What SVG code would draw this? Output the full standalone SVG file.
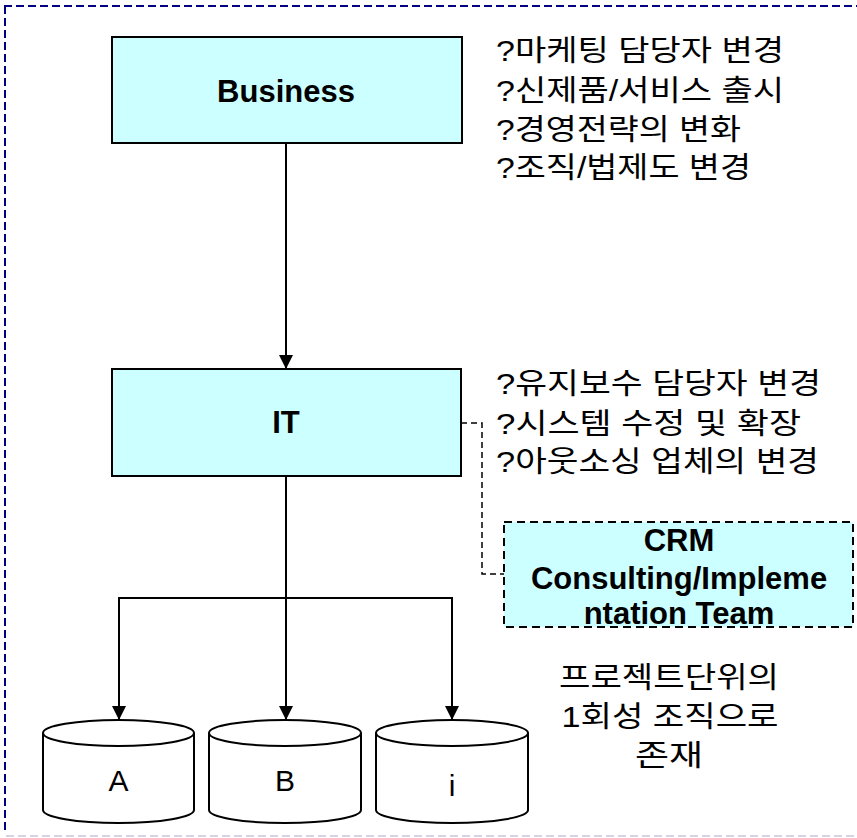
<svg xmlns="http://www.w3.org/2000/svg" width="857" height="838" viewBox="0 0 857 838">
  <style>
    .box { fill: #ccffff; stroke: #000; stroke-width: 2; }
    .team { fill: #ccffff; stroke: #000; stroke-width: 2; stroke-dasharray: 8 5; }
    .db { fill: #fff; stroke: #000; stroke-width: 2; }
    .bold { font-family: "Liberation Sans", Arial, sans-serif; font-weight: bold; font-size: 31px; fill: #000; text-anchor: middle; }
    .lbl { font-family: "Liberation Sans", Arial, sans-serif; font-size: 30px; fill: #000; text-anchor: middle; }
    .note { font-family: "Liberation Sans", "Noto Sans CJK KR", sans-serif; font-size: 29px; fill: #000; }
    .mid { text-anchor: middle; }
    .wire { fill: none; stroke: #000; stroke-width: 2; }
    .dash { fill: none; stroke: #000; stroke-width: 1.5; stroke-dasharray: 6 4; }
  </style>
  <defs>
    <marker id="arrow" viewBox="0 0 14 14" refX="14" refY="7" markerWidth="14" markerHeight="14" markerUnits="userSpaceOnUse" orient="auto">
      <path d="M0,0 L14,7 L0,14 Z" fill="#000"/>
    </marker>
  </defs>

  <rect width="857" height="838" fill="#fff"/>

  <!-- outer dashed frame -->
  <g id="frame" fill="none" stroke-width="2" stroke-dasharray="8 4">
    <line x1="4" y1="6" x2="857" y2="6" stroke="#000080"/>
    <line x1="5" y1="6" x2="5" y2="832" stroke="#000080"/>
    <line x1="6" y1="836" x2="857" y2="836" stroke="#d4d4e6"/>
  </g>

  <!-- connectors -->
  <g id="connectors">
    <line class="wire" x1="286" y1="143" x2="286" y2="369" marker-end="url(#arrow)"/>
    <line class="wire" x1="286" y1="476" x2="286" y2="720" marker-end="url(#arrow)"/>
    <polyline class="wire" points="119,720 119,598 452,598 452,720"/>
    <line class="wire" x1="119" y1="700" x2="119" y2="720" marker-end="url(#arrow)"/>
    <line class="wire" x1="452" y1="700" x2="452" y2="720" marker-end="url(#arrow)"/>
    <polyline class="dash" points="461,423 482,423 482,574 504,574"/>
  </g>

  <g id="business">
    <rect class="box" x="112" y="37" width="350" height="106"/>
    <text class="bold" x="286" y="102">Business</text>
  </g>

  <g id="it">
    <rect class="box" x="112" y="369" width="349" height="107"/>
    <text class="bold" x="286" y="433">IT</text>
  </g>

  <g id="crm-team">
    <rect class="team" x="504" y="522" width="349" height="105"/>
    <text class="bold" x="679" y="551">CRM</text>
    <text class="bold" x="679" y="589">Consulting/Impleme</text>
    <text class="bold" x="679" y="624">ntation Team</text>
  </g>

  <g id="db-a">
    <path class="db" d="M43,733 L43,810 A75.5,13 0 0 0 194,810 L194,733"/>
    <ellipse class="db" cx="118.5" cy="733" rx="75.5" ry="13"/>
    <text class="lbl" x="118.5" y="791">A</text>
  </g>
  <g id="db-b">
    <path class="db" d="M209,733 L209,810 A76,13 0 0 0 361,810 L361,733"/>
    <ellipse class="db" cx="285" cy="733" rx="76" ry="13"/>
    <text class="lbl" x="285" y="791">B</text>
  </g>
  <g id="db-i">
    <path class="db" d="M376,733 L376,810 A76,13 0 0 0 528,810 L528,733"/>
    <ellipse class="db" cx="452" cy="733" rx="76" ry="13"/>
    <text class="lbl" x="452" y="796">i</text>
  </g>

  <g id="business-notes">
    <text class="note" x="496" y="61" textLength="288" lengthAdjust="spacingAndGlyphs">?마케팅 담당자 변경</text>
    <text class="note" x="496" y="101" textLength="288" lengthAdjust="spacingAndGlyphs">?신제품/서비스 출시</text>
    <text class="note" x="496" y="140" textLength="245" lengthAdjust="spacingAndGlyphs">?경영전략의 변화</text>
    <text class="note" x="496" y="178" textLength="255" lengthAdjust="spacingAndGlyphs">?조직/법제도 변경</text>
  </g>

  <g id="it-notes">
    <text class="note" x="496" y="394" textLength="325" lengthAdjust="spacingAndGlyphs">?유지보수 담당자 변경</text>
    <text class="note" x="496" y="434" textLength="305" lengthAdjust="spacingAndGlyphs">?시스템 수정 및 확장</text>
    <text class="note" x="496" y="472" textLength="323" lengthAdjust="spacingAndGlyphs">?아웃소싱 업체의 변경</text>
  </g>

  <g id="team-note">
    <text class="note mid" x="669" y="688" textLength="220" lengthAdjust="spacingAndGlyphs">프로젝트단위의</text>
    <text class="note mid" x="670" y="727" textLength="217" lengthAdjust="spacingAndGlyphs">1회성 조직으로</text>
    <text class="note mid" x="669" y="766" textLength="68" lengthAdjust="spacingAndGlyphs">존재</text>
  </g>
</svg>
